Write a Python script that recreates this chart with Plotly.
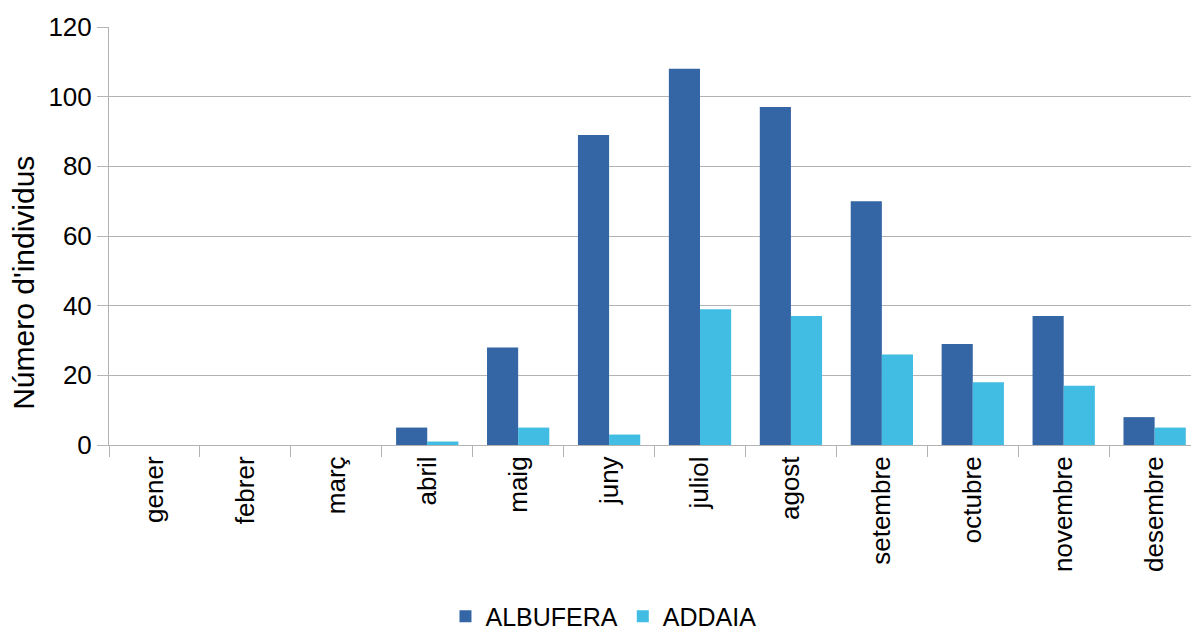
# monthly counts, Albufera vs Addaia
from plotly.graph_objects import Figure, Bar

months = ['gener', 'febrer', 'març', 'abril', 'maig', 'juny', 'juliol',
          'agost', 'setembre', 'octubre', 'novembre', 'desembre']
albufera = [0, 0, 0, 5, 28, 89, 108, 97, 70, 29, 37, 8]
addaia = [0, 0, 0, 1, 5, 3, 39, 37, 26, 18, 17, 5]
y_ticks = [0, 20, 40, 60, 80, 100, 120]

fig = Figure()
fig.add_trace(Bar(x=months, y=albufera, name='ALBUFERA', marker=dict(color='#3465A4', line=dict(width=0))))
fig.add_trace(Bar(x=months, y=addaia, name='ADDAIA', marker=dict(color='#41BCE2', line=dict(width=0))))

grey = '#B3B3B3'
fig.update_layout(dict(
    width=1191,
    height=631,
    margin=dict(l=109, r=0, t=27, b=186, autoexpand=False),
    paper_bgcolor='white',
    plot_bgcolor='white',
    font=dict(family='Liberation Sans', size=26, color='black'),
    barmode='group',
    bargap=0.315,
    bargroupgap=0,
    xaxis=dict(
        type='category',
        # the original's last category runs slightly past the picture's edge
        range=[-0.5, 11.4],
        tickangle=-90,
        tickson='boundaries',
        ticks='outside',
        ticklen=11,
        tickcolor=grey,
        showline=True,
        linecolor=grey,
        linewidth=1,
        showgrid=False,
        automargin=False,
        tickfont=dict(size=26),
    ),
    yaxis=dict(
        range=[0, 120],
        tickvals=y_ticks,
        ticks='outside',
        ticklen=11,
        tickcolor=grey,
        showline=True,
        linecolor=grey,
        gridcolor=grey,
        zeroline=False,
        automargin=False,
        tickfont=dict(size=26),
    ),
    legend=dict(
        orientation='h',
        x=0.457,
        xanchor='center',
        y=-0.41,
        yanchor='middle',
        font=dict(size=25),
    ),
))

## y title sits lower than the plot centre in the original, so place it by hand
fig.add_annotation(
    text="Número d'individus",
    xref='paper', yref='paper',
    x=0, xshift=-85, xanchor='center',
    y=0.388, yanchor='middle',
    textangle=-90,
    showarrow=False,
    font=dict(size=30),
)

# page has a default body margin and may get a scrollbar; drop both
fig.write_html(
    'out.html',
    config=dict(displayModeBar=False),
    post_script="document.body.style.margin='0';"
                "document.documentElement.style.overflow='hidden';"
                "document.body.style.overflow='hidden';",
)
